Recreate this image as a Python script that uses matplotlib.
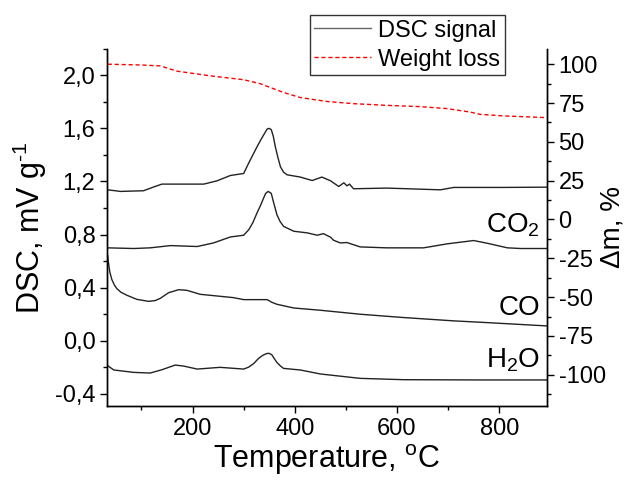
import matplotlib
matplotlib.use("Agg")
import matplotlib.pyplot as plt
from matplotlib.ticker import MultipleLocator, FuncFormatter

plt.rcParams["font.family"] = ["Liberation Sans", "DejaVu Sans"]
plt.rcParams["mathtext.fontset"] = "custom"
plt.rcParams["mathtext.rm"] = "Liberation Sans"
plt.rcParams["mathtext.it"] = "Liberation Sans:italic"
plt.rcParams["axes.unicode_minus"] = False

# -------- data --------
dsc_t = [34, 59, 104, 125, 140, 170, 222, 248, 274, 300, 310, 318, 326, 333,
         339, 346, 350, 354, 358, 362, 367, 372, 378, 385, 411, 434, 453,
         470, 486, 496, 502, 507, 515, 580, 685, 711, 809, 893]
dsc_v = [1.137, 1.125, 1.13, 1.16, 1.18, 1.18, 1.18, 1.205, 1.245, 1.26,
         1.34, 1.40, 1.46, 1.51, 1.55, 1.595, 1.60, 1.59, 1.54, 1.46, 1.38,
         1.31, 1.27, 1.25, 1.233, 1.207, 1.233, 1.205, 1.162, 1.19, 1.167,
         1.18, 1.145, 1.15, 1.137, 1.155, 1.155, 1.157]

co2_t = [34, 85, 117, 157, 209, 241, 274, 300, 310, 318, 326, 333, 339, 343,
         348, 354, 358, 365, 371, 378, 398, 424, 444, 456, 470, 476, 489,
         502, 528, 580, 652, 698, 750, 776, 816, 842, 893]
co2_v = [0.70, 0.695, 0.70, 0.717, 0.71, 0.737, 0.782, 0.795, 0.837, 0.89,
         0.962, 1.02, 1.075, 1.11, 1.125, 1.11, 1.05, 0.95, 0.90, 0.862,
         0.825, 0.813, 0.795, 0.807, 0.78, 0.757, 0.737, 0.74, 0.707, 0.70,
         0.70, 0.73, 0.755, 0.735, 0.70, 0.695, 0.695]

co_t = [34, 35, 38, 42, 47, 52, 60, 72, 91, 114, 127, 137, 153, 173, 189,
        215, 280, 300, 346, 355, 365, 398, 450, 528, 613, 711, 776, 893]
co_v = [0.64, 0.60, 0.52, 0.462, 0.42, 0.392, 0.365, 0.342, 0.312, 0.297,
        0.303, 0.32, 0.362, 0.385, 0.38, 0.35, 0.325, 0.31, 0.31, 0.29,
        0.275, 0.247, 0.23, 0.2, 0.175, 0.15, 0.137, 0.112]

h2o_t = [34, 46, 85, 117, 140, 166, 182, 209, 254, 300, 310, 320, 329, 338,
         346, 350, 355, 360, 365, 372, 378, 411, 450, 528, 613, 763, 893]
h2o_v = [-0.188, -0.22, -0.238, -0.243, -0.218, -0.183, -0.19, -0.213, -0.2,
         -0.213, -0.198, -0.17, -0.133, -0.108, -0.095, -0.095, -0.105,
         -0.135, -0.163, -0.19, -0.208, -0.22, -0.25, -0.283, -0.293, -0.295,
         -0.295]

wl_t = [34, 100, 137, 170, 235, 300, 332, 352, 378, 411, 463, 515, 580, 645,
        698, 743, 763, 809, 893]
wl_v = [100, 99.5, 98.9, 95.5, 92.5, 90, 87.5, 85, 81.8, 78.5, 76, 74.6,
        73.5, 72.7, 71.4, 69.2, 67.7, 66.7, 65.6]

gas_labels = ["CO$_\\mathrm{2}$", "CO", "H$_\\mathrm{2}$O"]
gas_label_y = [0.815, 0.192, -0.2]

# -------- figure --------
fig = plt.figure(figsize=(6.27, 4.82), dpi=100)
ax = fig.add_axes([0.171, 0.158, 0.701, 0.741])
ax2 = ax.twinx()

line_c = "#222222"
l1, = ax.plot(dsc_t, dsc_v, color=line_c, lw=1.0, label="DSC signal")
ax.plot(co2_t, co2_v, color=line_c, lw=1.0)
ax.plot(co_t, co_v, color=line_c, lw=1.0)
ax.plot(h2o_t, h2o_v, color=line_c, lw=1.0)
l2, = ax2.plot(wl_t, wl_v, color="red", lw=1.0, ls=(0, (3, 2)), label="Weight loss")

for lab, yv in zip(gas_labels, gas_label_y):
    ax.text(880, yv, lab, ha="right", va="baseline", fontsize=20)

ax.set_xlim(33, 893)
ax.set_ylim(-0.49, 2.2)
ax2.set_ylim(-120, 110)

ax.xaxis.set_major_locator(MultipleLocator(200))
ax.xaxis.set_minor_locator(MultipleLocator(100))
ax.yaxis.set_major_locator(MultipleLocator(0.4))
ax.yaxis.set_minor_locator(MultipleLocator(0.2))
ax.yaxis.set_major_formatter(FuncFormatter(lambda v, p: f"{v:.1f}".replace(".", ",").replace("-0,0", "0,0")))
ax2.yaxis.set_major_locator(MultipleLocator(25))
ax2.yaxis.set_minor_locator(MultipleLocator(12.5))

for a in (ax, ax2):
    a.spines["top"].set_visible(False)
    for s in a.spines.values():
        s.set_linewidth(1.0)
    a.tick_params(which="major", length=5, width=1, labelsize=17, direction="out")
    a.tick_params(which="minor", length=3, width=1, direction="out")

ax.set_xlabel("Temperature, $^\\mathrm{o}$C", fontsize=22, labelpad=2)
ax.set_ylabel("DSC, mV g$^\\text{-1}$", fontsize=22, labelpad=4)
ax2.set_ylabel("\u0394m, %", fontsize=20, rotation=90, va="center")
ax2.yaxis.set_label_coords(1.15, 0.5)

leg = fig.legend(handles=[l1, l2], loc="upper left", bbox_to_anchor=(0.494, 0.969),
                 fontsize=17, frameon=True, fancybox=False, handlelength=2.4,
                 handletextpad=0.3, borderpad=0.2, labelspacing=0.3,
                 borderaxespad=0)
leg.get_frame().set_edgecolor("black")
leg.get_frame().set_linewidth(1.0)
leg.get_lines()[0].set_color("#666666")

fig.savefig("out.png", dpi=100)
